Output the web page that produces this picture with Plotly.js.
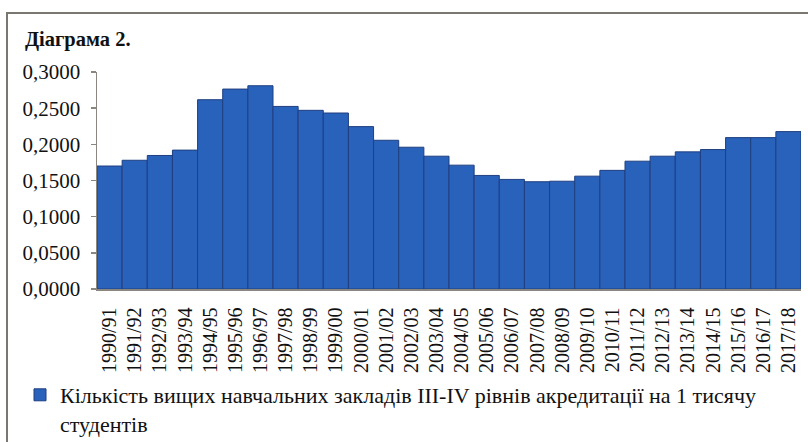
<!DOCTYPE html>
<html>
<head>
<meta charset="utf-8">
<script src="https://cdn.plot.ly/plotly-3.0.1.min.js"></script>
<style>
  html, body { margin: 0; padding: 0; background: #fff; }
  #wrap { position: relative; width: 808px; height: 442px; overflow: hidden; }
  #chart { width: 808px; height: 442px; }
  #frame { position: absolute; left: 6px; top: 12px; width: 820px; height: 460px;
           border-left: 2px solid #7a7670; border-top: 2px solid #7a7670; pointer-events: none; }
</style>
</head>
<body>
<div id="wrap">
  <div id="chart"></div>
  <div id="frame"></div>
</div>
<script>
const years = ["1990/91","1991/92","1992/93","1993/94","1994/95","1995/96","1996/97","1997/98","1998/99","1999/00",
  "2000/01","2001/02","2002/03","2003/04","2004/05","2005/06","2006/07","2007/08","2008/09","2009/10",
  "2010/11","2011/12","2012/13","2013/14","2014/15","2015/16","2016/17","2017/18"];
const values = [0.1700,0.1780,0.1846,0.1920,0.2617,0.2764,0.2810,0.2524,0.2470,0.2433,
  0.2245,0.2056,0.1960,0.1836,0.1712,0.1570,0.1515,0.1483,0.1490,0.1560,
  0.1640,0.1767,0.1836,0.1896,0.1928,0.2093,0.2093,0.2176];
const seriesName = "Кількість вищих навчальних закладів ІІІ-IV рівнів акредитації на 1 тисячу<br>студентів";
const chartTitle = "Діаграма 2.";

const font = "Liberation Serif";
const trace = {
  type: "bar",
  x: years,
  y: values,
  name: seriesName,
  showlegend: true,
  marker: { color: "#2862BA", line: { color: "#1F3F80", width: 1 } },
  hoverinfo: "x+y"
};
const layout = {
  width: 808, height: 442,
  margin: { l: 97, r: 7, t: 72, b: 153, autoexpand: false },
  paper_bgcolor: "#ffffff",
  plot_bgcolor: "#ffffff",
  separators: ", ",
  font: { family: font, size: 20, color: "#111" },
  title: {
    text: "<b>" + chartTitle + "</b>",
    font: { family: font, size: 20.5, color: "#111" },
    xref: "container", yref: "container",
    x: 25/808, xanchor: "left",
    y: 1 - 39/442, yanchor: "middle"
  },
  bargap: 0,
  xaxis: {
    type: "category",
    tickangle: -90,
    showline: true, linecolor: "#8a8680", linewidth: 1.5,
    ticks: "", showgrid: false, zeroline: false,
    ticklabelstandoff: 9,
    tickfont: { family: font, size: 20, color: "#111" }
  },
  yaxis: {
    range: [0, 0.3],
    dtick: 0.05,
    tickformat: ".4f",
    showline: true, linecolor: "#8a8680", linewidth: 1.5,
    ticks: "outside", ticklen: 5, tickcolor: "#8a8680", tickwidth: 1.5,
    showgrid: false, zeroline: false,
    ticklabelstandoff: 6,
    tickfont: { family: font, size: 21, color: "#111" }
  },
  showlegend: true,
  legend: {
    x: (20 - 97) / 704, xanchor: "left",
    y: (289 - 374) / 217, yanchor: "top",
    valign: "top",
    font: { family: font, size: 22, color: "#111" },
    bgcolor: "rgba(0,0,0,0)",
    itemwidth: 30
  }
};
Plotly.newPlot("chart", [trace], layout, { displayModeBar: false, staticPlot: true });
</script>
</body>
</html>
